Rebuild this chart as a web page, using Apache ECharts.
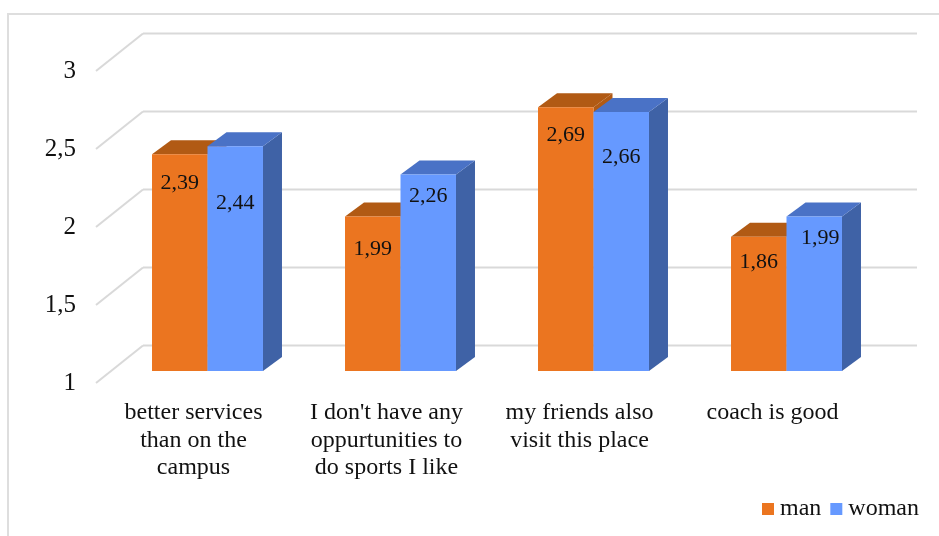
<!DOCTYPE html>
<html>
<head>
<meta charset="utf-8">
<style>html,body{margin:0;padding:0;background:#fff}#c{width:939px;height:536px}</style>
<script src="https://cdn.jsdelivr.net/npm/echarts@6/dist/echarts.min.js"></script>
</head>
<body>
<div id="c"></div>
<script>
const categories = ["better services\nthan on the\ncampus", "I don't have any\noppurtunities to\ndo sports I like", "my friends also\nvisit this place", "coach is good"];
const man = [2.39, 1.99, 2.69, 1.86];
const woman = [2.44, 2.26, 2.66, 1.99];
const ticks = [1, 1.5, 2, 2.5, 3];

const FONT = '"Liberation Serif", serif';
const DEPTH = [19, -14];          // bar depth
const BACK = [32, -25.5];         // wall offset from the front plane
const FRONT = [-15, 12];          // floor edge in front of the plane
const LABEL_NUDGE = {             // manual data-label placement from the bar top
  man: [[0, 29], [0, 33], [0, 28], [0, 25]],
  woman: [[0, 57], [0, 22], [0, 45], [6, 22]]
};
const fmt = v => String(v).replace('.', ',');

function barRenderer(side, colors, nudge) {
  return function (params, api) {
    const i = api.value(0), v = api.value(1);
    const top = api.coord([i, v]), base = api.coord([i, 1]);
    const w = api.size([1, 0])[0] * 0.2875;
    const x0 = side < 0 ? top[0] - w : top[0], x1 = x0 + w;
    const yT = top[1], yB = base[1], dx = DEPTH[0], dy = DEPTH[1];
    const poly = (pts, fill) => ({type: 'polygon', shape: {points: pts}, style: {fill: fill}});
    return {type: 'group', children: [
      poly([[x1, yT], [x1 + dx, yT + dy], [x1 + dx, yB + dy], [x1, yB]], colors.side),
      poly([[x0, yT], [x1, yT], [x1 + dx, yT + dy], [x0 + dx, yT + dy]], colors.top),
      poly([[x0, yT], [x1, yT], [x1, yB], [x0, yB]], colors.front),
      {type: 'text', style: {
        text: fmt(v.toFixed(2)), x: (x0 + x1) / 2 + nudge[i][0], y: yT + nudge[i][1],
        align: 'center', verticalAlign: 'middle',
        font: '22px ' + FONT, fill: '#111'
      }}
    ]};
  };
}

function wallRenderer(params, api) {
  const v = api.value(0);
  const cs = params.coordSys;
  const y = api.coord([0, v])[1];
  const lineStyle = {stroke: '#d9d9d9', lineWidth: 2, fill: null};
  const bx = cs.x + BACK[0], by = y + BACK[1];
  return {type: 'group', children: [
    {type: 'line', shape: {x1: cs.x + FRONT[0], y1: y + FRONT[1], x2: bx, y2: by}, style: lineStyle},
    {type: 'line', shape: {x1: bx, y1: by, x2: cs.x + cs.width + BACK[0] + 2, y2: by}, style: lineStyle}
  ]};
}

const chart = echarts.init(document.getElementById('c'), null, {renderer: 'canvas'});
chart.setOption({
  animation: false,
  backgroundColor: '#fff',
  textStyle: {fontFamily: FONT},
  graphic: [{type: 'rect', shape: {x: 8, y: 14, width: 940, height: 540}, style: {fill: null, stroke: '#dedede', lineWidth: 2}, silent: true}],
  grid: {left: 111, top: 59, width: 772, height: 312},
  legend: {
    left: 757, top: 492, icon: 'rect', itemWidth: 12, itemHeight: 12, itemGap: 9,
    data: ['man', 'woman'],
    textStyle: {fontFamily: FONT, fontSize: 24, color: '#111', padding: [0, 0, 0, 1]}
  },
  xAxis: {
    type: 'category', data: categories,
    axisLine: {show: false}, axisTick: {show: false}, splitLine: {show: false},
    axisLabel: {interval: 0, margin: 28, fontFamily: FONT, fontSize: 24, lineHeight: 27.5, color: '#111', padding: [0, 28, 0, 0], align: 'center'}
  },
  yAxis: {
    type: 'value', min: 1, max: 3, interval: 0.5,
    axisLine: {show: false}, axisTick: {show: false}, splitLine: {show: false},
    axisLabel: {margin: 35, fontFamily: FONT, fontSize: 25, color: '#111', verticalAlign: 'top', formatter: v => fmt(v)}
  },
  series: [
    {type: 'custom', name: 'walls', z: 1, silent: true, coordinateSystem: 'cartesian2d', data: ticks.map(t => [t]), encode: {y: 0}, renderItem: wallRenderer},
    {type: 'custom', name: 'man', z: 2, coordinateSystem: 'cartesian2d', itemStyle: {color: '#EB7520'}, data: man.map((v, i) => [i, v]), encode: {x: 0, y: 1},
     renderItem: barRenderer(-1, {front: '#EB7520', top: '#B15A14', side: '#B15A14'}, LABEL_NUDGE.man)},
    {type: 'custom', name: 'woman', z: 3, coordinateSystem: 'cartesian2d', itemStyle: {color: '#6699FF'}, data: woman.map((v, i) => [i, v]), encode: {x: 0, y: 1},
     renderItem: barRenderer(1, {front: '#6699FF', top: '#4A72C6', side: '#3F62A6'}, LABEL_NUDGE.woman)}
  ]
});
</script>
</body>
</html>
